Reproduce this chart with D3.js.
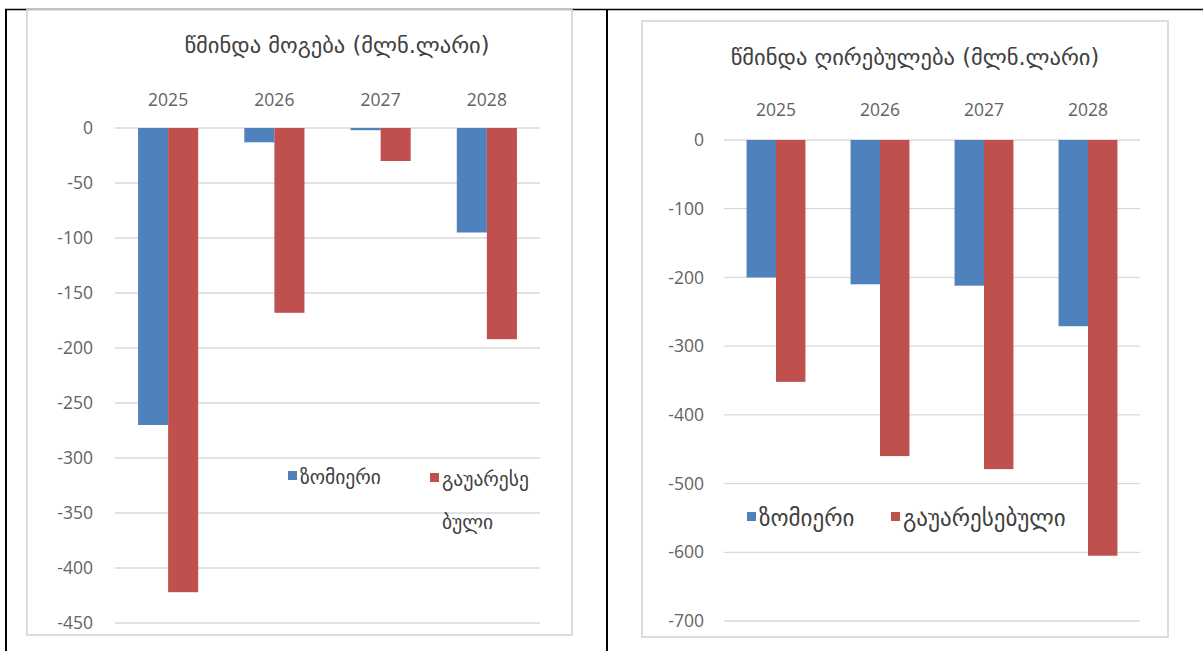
<!DOCTYPE html>
<html>
<head>
<meta charset="utf-8">
<script src="https://d3js.org/d3.v7.min.js"></script>
<title>წმინდა მოგება / წმინდა ღირებულება</title>
<style>
    body { margin: 0; background: #fff; }
    svg { display: block; }
    .grid line { stroke: #d9d9d9; stroke-width: 1.3; }
    .tick-label { font-family: "Open Sans", "DejaVu Sans", sans-serif; fill: #636363; }
    .geo { font-family: "DejaVu Sans", sans-serif; fill: #404040; }
</style>
</head>
<body>
<svg id="chart" width="1203" height="651"></svg>
<script>
// categories
var years = ["2025", "2026", "2027", "2028"];
var seriesNames = ["ზომიერი", "გაუარესებული"];
var seriesColors = ["#4f81bd", "#c0504d"];

// left chart: net profit (mln GEL)
var profitTitle = "წმინდა მოგება (მლნ.ლარი)";
var profitModerate = [-270, -13, -2, -95];
var profitWorse = [-422, -168, -30, -192];
var profitTicks = [0, -50, -100, -150, -200, -250, -300, -350, -400, -450];

// right chart: net value (mln GEL)
var valueTitle = "წმინდა ღირებულება (მლნ.ლარი)";
var valueModerate = [-200, -210, -212, -271];
var valueWorse = [-352, -460, -479, -605];
var valueTicks = [0, -100, -200, -300, -400, -500, -600, -700];

var svg = d3.select("#chart");

// table cell borders
svg.append("line").attr("x1", 5).attr("x2", 1203).attr("y1", 9.5).attr("y2", 9.5)
    .attr("stroke", "#000").attr("stroke-width", 1.6);
svg.append("line").attr("x1", 6).attr("x2", 6).attr("y1", 9).attr("y2", 651)
    .attr("stroke", "#000").attr("stroke-width", 2);
svg.append("line").attr("x1", 607).attr("x2", 607).attr("y1", 9).attr("y2", 651)
    .attr("stroke", "#000").attr("stroke-width", 2);

function drawChart(opt) {
    var g = svg.append("g");

    g.append("rect")
        .attr("x", opt.frame[0]).attr("y", opt.frame[1])
        .attr("width", opt.frame[2] - opt.frame[0]).attr("height", opt.frame[3] - opt.frame[1])
        .attr("fill", "#fff").attr("stroke", "#d9d9d9").attr("stroke-width", 1.8);

    var x = d3.scaleBand().domain(years).range(opt.xRange)
        .paddingInner(0.434).paddingOuter(0.217);
    var xs = d3.scaleBand().domain([0, 1]).range([0, x.bandwidth()]);
    var y = d3.scaleLinear().domain([opt.ticks[0], opt.ticks[opt.ticks.length - 1]]).range(opt.yRange);

    // gridlines
    g.append("g").attr("class", "grid")
        .selectAll("line").data(opt.ticks).enter().append("line")
        .attr("x1", opt.xRange[0]).attr("x2", opt.xRange[1])
        .attr("y1", function (d) { return y(d); }).attr("y2", function (d) { return y(d); });

    // y axis labels
    var yAxis = d3.axisLeft(y).tickValues(opt.ticks).tickSize(0).tickPadding(0);
    var ya = g.append("g").attr("transform", "translate(" + opt.labelRight + ",0)").call(yAxis);
    ya.select(".domain").remove();
    ya.selectAll("text").attr("class", "tick-label").attr("font-size", opt.tickSize)
        .attr("fill", null).attr("font-family", null)
        .text(function (d) { return d < 0 ? "-" + Math.abs(d) : d; });

    // year labels on top
    var xAxis = d3.axisTop(x).tickSize(0).tickPadding(0);
    var xa = g.append("g").attr("transform", "translate(0," + opt.yearY + ")").call(xAxis);
    xa.select(".domain").remove();
    xa.selectAll("text").attr("class", "tick-label").attr("font-size", opt.tickSize)
        .attr("fill", null).attr("font-family", null).attr("dy", "0.35em");

    // bars
    var series = [opt.moderate, opt.worse];
    series.forEach(function (vals, si) {
        g.append("g").selectAll("rect").data(years).enter().append("rect")
            .attr("x", function (d) { return x(d) + xs(si); })
            .attr("width", xs.bandwidth())
            .attr("y", y(0))
            .attr("height", function (d, i) { return y(vals[i]) - y(0); })
            .attr("fill", seriesColors[si]);
    });

    // title
    g.append("text").attr("class", "geo")
        .attr("x", opt.titlePos[0]).attr("y", opt.titlePos[1])
        .attr("text-anchor", "middle").attr("dominant-baseline", "central")
        .attr("font-size", opt.titleSize)
        .text(opt.title);

    // legend
    opt.legend.forEach(function (item, i) {
        g.append("rect")
            .attr("x", item.x).attr("y", item.y - 6)
            .attr("width", 9).attr("height", 9)
            .attr("fill", seriesColors[i]);
        var t = g.append("text").attr("class", "geo")
            .attr("x", item.x + 12).attr("y", item.y)
            .attr("dominant-baseline", "central")
            .attr("font-size", opt.legendSize);
        item.lines.forEach(function (ln, li) {
            t.append("tspan").attr("x", item.x + 12).attr("dy", li === 0 ? 0 : 43).text(ln);
        });
    });
}

drawChart({
    title: profitTitle,
    moderate: profitModerate,
    worse: profitWorse,
    ticks: profitTicks,
    frame: [27, 10, 572, 635],
    xRange: [115, 540],
    yRange: [128, 623],
    labelRight: 93,
    yearY: 100,
    tickSize: 17.5,
    titlePos: [337, 45],
    titleSize: 22.5,
    legendSize: 19.5,
    legend: [
        { x: 288, y: 477, lines: [seriesNames[0]] },
        { x: 430, y: 479, lines: [seriesNames[1].slice(0, 8), seriesNames[1].slice(8)] }
    ]
});

drawChart({
    title: valueTitle,
    moderate: valueModerate,
    worse: valueWorse,
    ticks: valueTicks,
    frame: [642, 21, 1168, 637],
    xRange: [724, 1140],
    yRange: [140, 621],
    labelRight: 704,
    yearY: 110,
    tickSize: 17.5,
    titlePos: [915, 57],
    titleSize: 22.5,
    legendSize: 23,
    legend: [
        { x: 747, y: 518, lines: [seriesNames[0]] },
        { x: 891, y: 518, lines: [seriesNames[1]] }
    ]
});
</script>
</body>
</html>
